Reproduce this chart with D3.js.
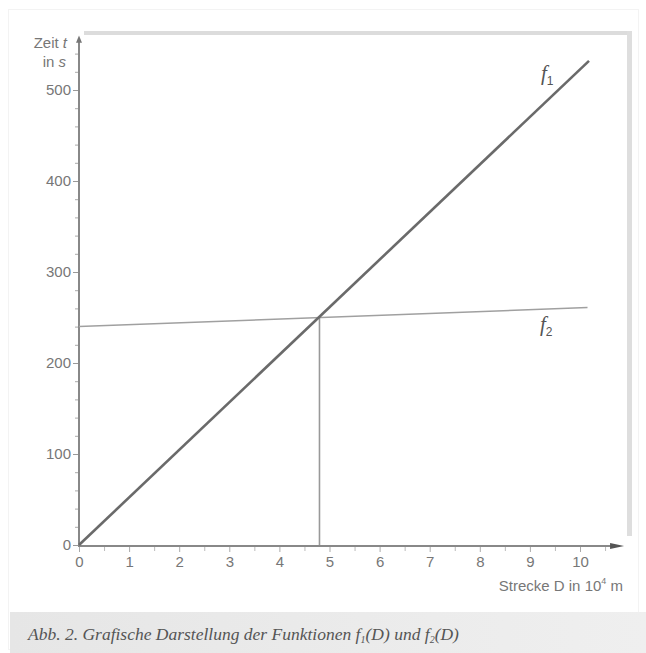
<!DOCTYPE html>
<html><head><meta charset="utf-8">
<script src="https://cdn.jsdelivr.net/npm/d3@7"></script>
<style>
body{margin:0;background:#fff;}
svg{display:block;}
</style></head>
<body>
<svg id="c" width="646" height="653"></svg>
<script>
// Data
const f1D = [0, 10.18];
const f1T = [0, 532];
const f2D = [0, 10.15];
const f2T = [240, 261];
const intersection = [4.8, 251];
const xMajorTicks = [0,1,2,3,4,5,6,7,8,9,10];
const yMajorTicks = [0,100,200,300,400,500];
const xLabel = "Strecke D in 10";
const yLabel1 = "Zeit ";
const yLabel2 = "in s";

const svg = d3.select("#c");
const x = d3.scaleLinear().domain([0,10]).range([79,580]);
const y = d3.scaleLinear().domain([0,500]).range([545,90]);
const sans = "Liberation Sans, Arial, sans-serif";

// outer faint frame
svg.append("rect").attr("x",8.5).attr("y",9.5).attr("width",630).attr("height",640)
  .attr("fill","none").attr("stroke","#f3f3f3");
// grey decorative frame (top and right)
svg.append("rect").attr("x",84).attr("y",31).attr("width",548).attr("height",4).attr("fill","#dcdcdc");
svg.append("rect").attr("x",627).attr("y",31).attr("width",5).attr("height",505).attr("fill","#dedede");

// caption band
const grad = svg.append("defs").append("linearGradient").attr("id","g");
grad.append("stop").attr("offset","0%").attr("stop-color","#e6e6e6");
grad.append("stop").attr("offset","100%").attr("stop-color","#efefef");
svg.append("rect").attr("x",10).attr("y",612).attr("width",636).attr("height",41).attr("fill","url(#g)");
svg.append("text").attr("x",28).attr("y",640)
  .attr("font-family","Liberation Serif, serif").attr("font-style","italic")
  .attr("font-size",17.5).attr("fill","#555")
  .html('Abb. 2. Grafische Darstellung der Funktionen f<tspan font-size="10" dy="3">1</tspan><tspan dy="-3">(D) und f</tspan><tspan font-size="10" dy="3">2</tspan><tspan dy="-3">(D)</tspan>');

// y axis minor ticks
const yMinor = d3.range(0, 541, 20).filter(v => v % 100 !== 0);
svg.append("g").attr("transform","translate(79,0)")
  .call(d3.axisLeft(y).tickValues(yMinor).tickSize(4).tickFormat(""))
  .call(g => g.select(".domain").remove())
  .call(g => g.selectAll("line").attr("stroke","#aaa"));
svg.append("g").attr("transform","translate(79,0)")
  .call(d3.axisLeft(y).tickValues(yMajorTicks).tickSize(6).tickPadding(2))
  .call(g => g.select(".domain").remove())
  .call(g => g.selectAll("line").attr("stroke","#999"))
  .call(g => g.selectAll("text").attr("font-family",sans).attr("font-size",15).attr("fill","#777"));

// x axis ticks
const xMinor = d3.range(0.5, 10.6, 1);
svg.append("g").attr("transform","translate(0,546)")
  .call(d3.axisBottom(x).tickValues(xMinor).tickSize(5).tickFormat(""))
  .call(g => g.select(".domain").remove())
  .call(g => g.selectAll("line").attr("stroke","#bbb"));
svg.append("g").attr("transform","translate(0,546)")
  .call(d3.axisBottom(x).tickValues(xMajorTicks).tickSize(6).tickPadding(4))
  .call(g => g.select(".domain").remove())
  .call(g => g.selectAll("line").attr("stroke","#aaa"))
  .call(g => g.selectAll("text").attr("font-family",sans).attr("font-size",15).attr("fill","#777"));

// axis lines
svg.append("line").attr("x1",79).attr("x2",79).attr("y1",y(0)+1).attr("y2",y(555))
  .attr("stroke","#888").attr("stroke-width",2);
svg.append("path").attr("d",`M76,${y(552)} L79,${y(560)} L82,${y(552)} Z`).attr("fill","#777");
svg.append("line").attr("x1",78).attr("x2",x(10.7)).attr("y1",546).attr("y2",546)
  .attr("stroke","#888").attr("stroke-width",2);
svg.append("path").attr("d",`M${x(10.6)},543 L${x(10.88)},546 L${x(10.6)},549 Z`).attr("fill","#555");

const line = d3.line().x(d => x(d[0])).y(d => y(d[1]));
// vertical line at intersection
svg.append("line").attr("x1",x(intersection[0])).attr("x2",x(intersection[0]))
  .attr("y1",y(0)).attr("y2",y(intersection[1]))
  .attr("stroke","#999").attr("stroke-width",1.6);
// f2
svg.append("path").datum(f2D.map((d,i)=>[d,f2T[i]])).attr("d",line)
  .attr("fill","none").attr("stroke","#a0a0a0").attr("stroke-width",1.5);
// f1
svg.append("path").datum(f1D.map((d,i)=>[d,f1T[i]])).attr("d",line)
  .attr("fill","none").attr("stroke","#6a6a6a").attr("stroke-width",2.6);

// labels
function flabel(px, py, sub){
  const t = svg.append("text").attr("x",px).attr("y",py).attr("font-family","Liberation Serif, serif")
    .attr("font-style","italic").attr("font-size",21).attr("fill","#555");
  t.append("tspan").text("f");
  t.append("tspan").attr("font-size",12).attr("font-style","normal").attr("font-family",sans).attr("dy",5).text(sub);
}
flabel(541, 80, "1");
flabel(540, 331, "2");

// axis titles
const yl = svg.append("text").attr("x",67).attr("y",48).attr("text-anchor","end")
  .attr("font-family",sans).attr("font-size",15).attr("fill","#777");
yl.append("tspan").text(yLabel1);
yl.append("tspan").attr("font-style","italic").text("t");
svg.append("text").attr("x",66).attr("y",67).attr("text-anchor","end")
  .attr("font-family",sans).attr("font-size",15).attr("fill","#777")
  .html('in <tspan font-style="italic">s</tspan>');
const xl = svg.append("text").attr("x",623).attr("y",591).attr("text-anchor","end")
  .attr("font-family",sans).attr("font-size",15).attr("fill","#777");
xl.append("tspan").text(xLabel);
xl.append("tspan").attr("font-size",9).attr("dy",-7).text("4");
xl.append("tspan").attr("dy",7).text(" m");
</script>
</body></html>
